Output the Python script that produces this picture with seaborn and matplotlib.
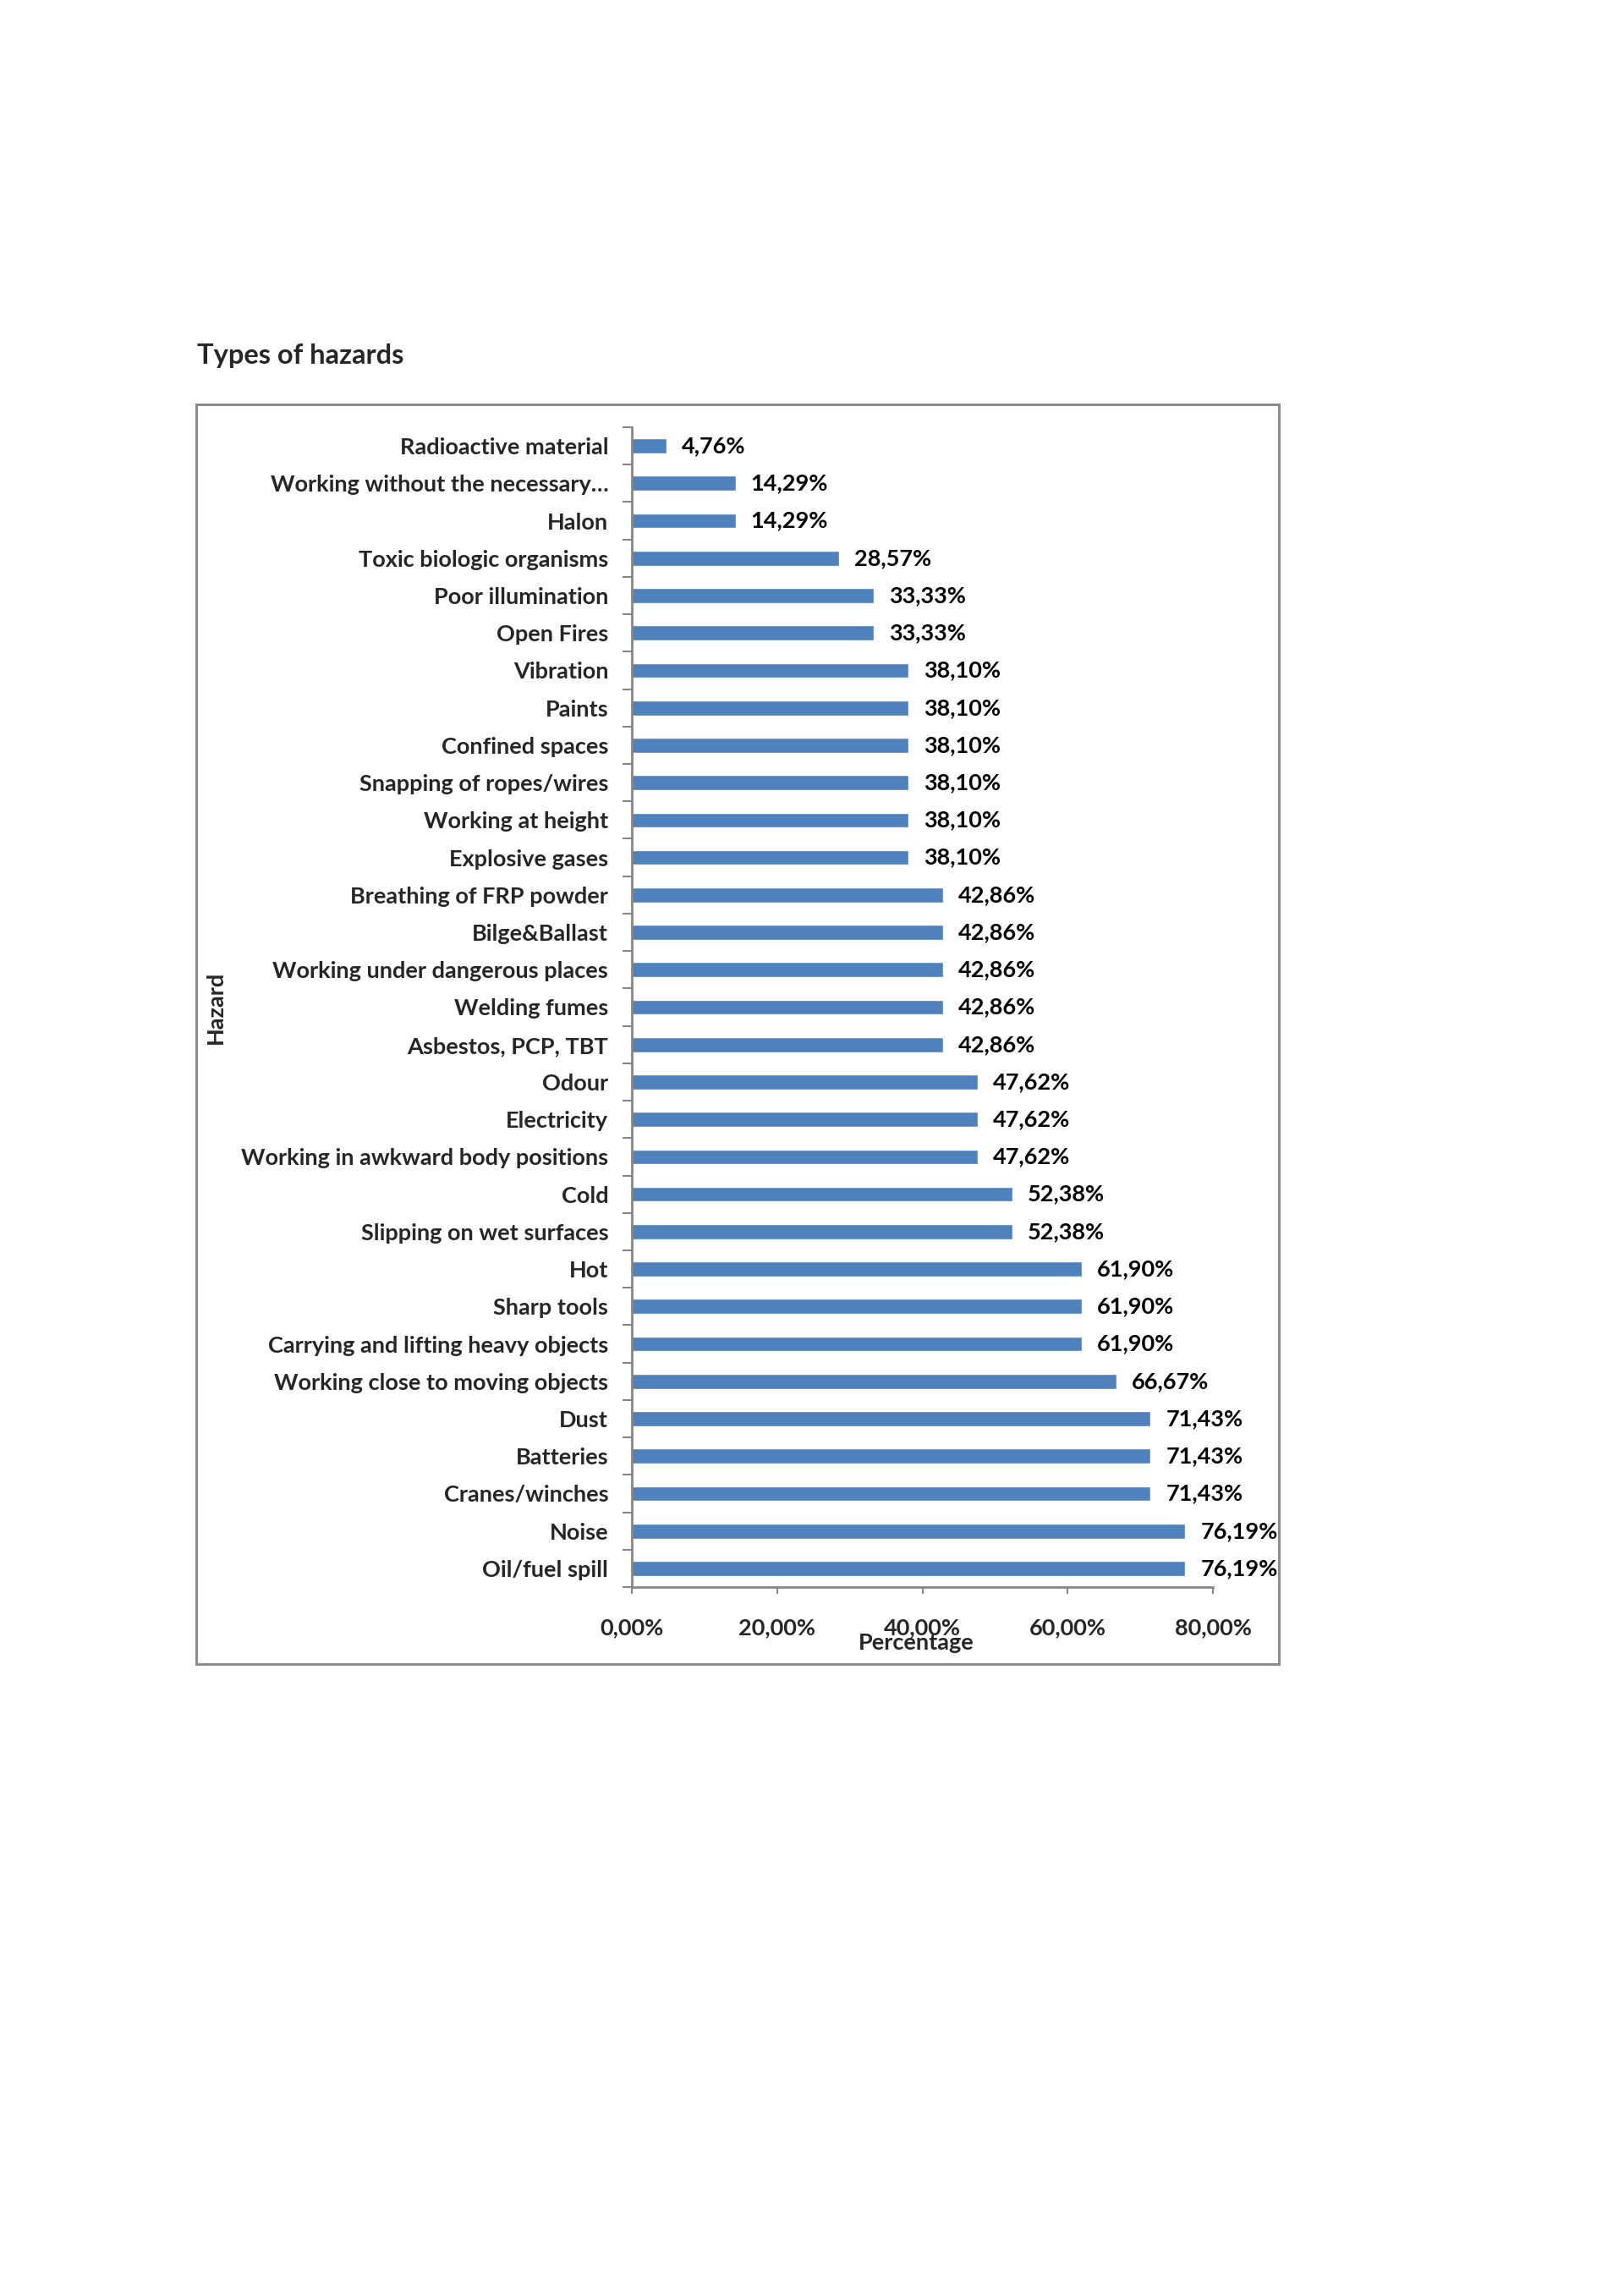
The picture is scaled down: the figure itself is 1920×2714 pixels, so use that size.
import numpy as np
import pandas as pd
import seaborn as sns
import matplotlib.pyplot as plt
from matplotlib.patches import Rectangle

# data (percent of respondents)
hazards = [
    "Radioactive material", "Working without the necessary…", "Halon",
    "Toxic biologic organisms", "Poor illumination", "Open Fires", "Vibration",
    "Paints", "Confined spaces", "Snapping of ropes/wires", "Working at height",
    "Explosive gases", "Breathing of FRP powder", "Bilge&Ballast",
    "Working under dangerous places", "Welding fumes", "Asbestos, PCP, TBT",
    "Odour", "Electricity", "Working in awkward body positions", "Cold",
    "Slipping on wet surfaces", "Hot", "Sharp tools",
    "Carrying and lifting heavy objects", "Working close to moving objects",
    "Dust", "Batteries", "Cranes/winches", "Noise", "Oil/fuel spill",
]
percentages = [
    4.76, 14.29, 14.29, 28.57, 33.33, 33.33, 38.10, 38.10, 38.10, 38.10, 38.10,
    38.10, 42.86, 42.86, 42.86, 42.86, 42.86, 47.62, 47.62, 47.62, 52.38, 52.38,
    61.90, 61.90, 61.90, 66.67, 71.43, 71.43, 71.43, 76.19, 76.19,
]
x_ticks = [0, 20, 40, 60, 80]

df = pd.DataFrame({"Hazard": hazards, "Percentage": percentages})

sns.set_theme(style="white")
plt.rcParams["font.family"] = ["Lato", "DejaVu Sans"]
plt.rcParams["font.weight"] = "bold"

W, H = 1920, 2714
fs = 19.5
fig = plt.figure(figsize=(W / 100, H / 100), dpi=100)
ax = fig.add_axes([747 / W, 1 - 1876 / H, (1434 - 747) / W, (1876 - 505) / H])

sns.barplot(data=df, x="Percentage", y="Hazard", orient="h", color="#4F81BD",
            saturation=1, width=0.4, ax=ax)

# value labels, comma as decimal separator
ax.bar_label(ax.containers[0],
             labels=[f"{v:.2f}%".replace(".", ",") for v in percentages],
             padding=13, fontsize=fs, fontweight="bold", color="black")

ax.set_xlim(0, 80)
ax.set_ylim(len(hazards) - 0.5, -0.5)
ax.set_xticks(x_ticks)
ax.set_xticklabels([f"{t:.2f}%".replace(".", ",") for t in x_ticks])

axis_grey = "#868686"
for side in ["top", "right"]:
    ax.spines[side].set_visible(False)
for side in ["left", "bottom"]:
    ax.spines[side].set_color(axis_grey)
    ax.spines[side].set_linewidth(2)

ax.tick_params(axis="x", direction="out", length=6, width=1.5, color=axis_grey,
               pad=20, labelsize=fs, bottom=True)
ax.tick_params(axis="y", which="major", length=0, pad=20, labelsize=fs)
ax.set_yticks(np.arange(len(hazards) + 1) - 0.5, minor=True)
ax.tick_params(axis="y", which="minor", direction="out", length=8, width=1.5,
               color=axis_grey, left=True)
for lab in ax.get_xticklabels() + ax.get_yticklabels():
    lab.set_fontweight("bold")

ax.set_xlabel("Percentage", fontsize=fs, fontweight="bold")
ax.xaxis.set_label_coords(0.49, -0.048)
ax.xaxis.label.set_va("center")
ax.set_ylabel("Hazard", fontsize=fs, fontweight="bold")
ax.yaxis.set_label_coords(-0.716, 0.5)
ax.yaxis.label.set_va("center")

# chart frame and title
fig.patches.append(Rectangle((232 / W, 1 - 1967 / H), (1512 - 232) / W,
                             (1967 - 478) / H, transform=fig.transFigure,
                             fill=False, edgecolor="#8c8c8c", linewidth=2.2))
fig.text(233 / W, 1 - 430 / H, "Types of hazards", fontsize=23.5,
         fontweight="bold", va="baseline", ha="left")

fig.savefig("out.png", dpi=100, facecolor="white")
